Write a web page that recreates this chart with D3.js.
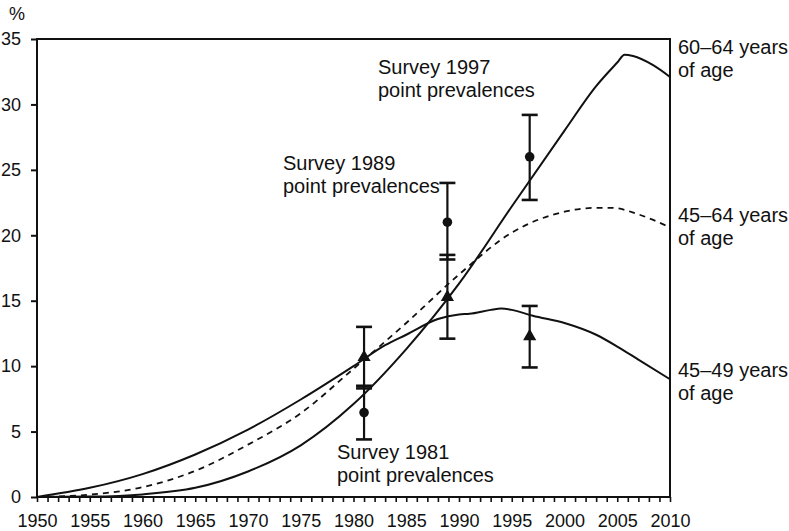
<!DOCTYPE html>
<html>
<head>
<meta charset="utf-8">
<script src="https://cdn.jsdelivr.net/npm/d3@7"></script>
<style>
  html, body { margin: 0; padding: 0; background: #fff; }
  svg { display: block; }
  text { font-family: "Liberation Sans", Arial, Helvetica, sans-serif; fill: #111; }
</style>
</head>
<body>
<svg id="chart" width="789" height="531"></svg>
<script>
// ---- data ----
const years6064 = [1950, 1955, 1960, 1965, 1970, 1975, 1980, 1985, 1990, 1995, 2000, 2003, 2005, 2005.7, 2006.5, 2008.4, 2010];
const values6064 = [0, 0.03, 0.2, 0.7, 1.95, 3.95, 7.1, 11.3, 16.3, 22.2, 28.0, 31.4, 33.2, 33.8, 33.7, 33.0, 32.1];

const years4564 = [1950, 1955, 1960, 1965, 1970, 1975, 1980, 1985, 1990, 1995, 2000, 2003, 2004.5, 2007, 2010];
const values4564 = [0, 0.18, 0.75, 2.0, 4.0, 6.4, 9.8, 13.3, 17.0, 20.2, 21.8, 22.1, 22.1, 21.6, 20.6];

const years4549 = [1950, 1955, 1960, 1965, 1970, 1975, 1980, 1983, 1985, 1988, 1990, 1991, 1993, 1994, 1995, 1997, 2000, 2003, 2005, 2007, 2010];
const values4549 = [0, 0.7, 1.75, 3.25, 5.15, 7.45, 10.0, 11.6, 12.4, 13.6, 13.95, 14.0, 14.3, 14.4, 14.3, 13.85, 13.3, 12.4, 11.5, 10.5, 9.0];

const surveyYears = [1981, 1988.9, 1996.7];
const circleValues = [6.45, 21.0, 26.0];   // 60–64 years
const circleLow = [4.4, 18.15, 22.7];
const circleHigh = [8.5, 24.0, 29.2];
const triangleValues = [10.6, 15.2, 12.2]; // 45–49 years
const triangleLow = [8.3, 12.1, 9.9];
const triangleHigh = [13.0, 18.5, 14.6];

const yTicks = [0, 5, 10, 15, 20, 25, 30, 35];
const xTickLabels = [1950, 1955, 1960, 1965, 1970, 1975, 1980, 1985, 1990, 1995, 2000, 2005, 2010];

// ---- layout ----
const svg = d3.select("#chart");
const pLeft = 37, pRight = 670, pTop = 39, pBottom = 497;
const x = d3.scaleLinear().domain([1950, 2010]).range([pLeft, pRight]);
const y = d3.scaleLinear().domain([0, 35]).range([pBottom, pTop]);

// box
svg.append("rect")
  .attr("x", pLeft).attr("y", pTop)
  .attr("width", pRight - pLeft).attr("height", pBottom - pTop)
  .attr("fill", "none").attr("stroke", "#111").attr("stroke-width", 2);

// y axis
const yAxis = d3.axisLeft(y).tickValues(yTicks).tickSize(6).tickPadding(10).tickFormat(d3.format("d"));
const gy = svg.append("g").attr("transform", `translate(${pLeft},0)`).call(yAxis);
gy.select(".domain").remove();
gy.selectAll(".tick line").attr("stroke", "#111").attr("stroke-width", 2);
gy.selectAll(".tick text").attr("font-size", 18).attr("font-family", "Liberation Sans, Arial, sans-serif").attr("fill", "#111");

// x axis: ticks every year, labels every 5
const xAxis = d3.axisBottom(x).tickValues(d3.range(1950, 2011, 1)).tickSize(5).tickPadding(12)
  .tickFormat(d => xTickLabels.includes(d) ? String(d) : "");
const gx = svg.append("g").attr("transform", `translate(0,${pBottom})`).call(xAxis);
gx.select(".domain").remove();
gx.selectAll(".tick line").attr("stroke", "#111").attr("stroke-width", 1.6);
gx.selectAll(".tick text").attr("font-size", 18).attr("font-family", "Liberation Sans, Arial, sans-serif").attr("fill", "#111");

// % label
svg.append("text").attr("x", 9).attr("y", 20).attr("font-size", 18).text("%");

// lines
const line = d3.line().x(d => x(d[0])).y(d => y(d[1])).curve(d3.curveMonotoneX);
function drawLine(xs, vs, dash) {
  svg.append("path")
    .datum(xs.map((d, i) => [d, vs[i]]))
    .attr("d", line)
    .attr("fill", "none")
    .attr("stroke", "#111")
    .attr("stroke-width", dash ? 1.8 : 2)
    .attr("stroke-dasharray", dash ? "6,5" : null);
}
drawLine(years6064, values6064, false);
drawLine(years4564, values4564, true);
drawLine(years4549, values4549, false);

// error bars
const capW = 8;
function errorBar(yr, lo, hi) {
  const g = svg.append("g").attr("stroke", "#111").attr("stroke-width", 2.2);
  g.append("line").attr("x1", x(yr)).attr("x2", x(yr)).attr("y1", y(lo)).attr("y2", y(hi));
  g.append("line").attr("x1", x(yr) - capW).attr("x2", x(yr) + capW).attr("y1", y(lo)).attr("y2", y(lo)).attr("stroke-width", 2.6);
  g.append("line").attr("x1", x(yr) - capW).attr("x2", x(yr) + capW).attr("y1", y(hi)).attr("y2", y(hi)).attr("stroke-width", 2.6);
}
surveyYears.forEach((yr, i) => {
  errorBar(yr, circleLow[i], circleHigh[i]);
  errorBar(yr, triangleLow[i], triangleHigh[i]);
});

// markers
svg.append("g").selectAll("circle").data(surveyYears).join("circle")
  .attr("cx", d => x(d)).attr("cy", (d, i) => y(circleValues[i])).attr("r", 4.8).attr("fill", "#111");
const tri = d3.symbol().type(d3.symbolTriangle).size(75);
svg.append("g").selectAll("path").data(surveyYears).join("path")
  .attr("d", tri)
  .attr("transform", (d, i) => `translate(${x(d)},${y(triangleValues[i]) - 1})`)
  .attr("fill", "#111");

// annotations
function label(xp, yp, lines) {
  const t = svg.append("text").attr("x", xp).attr("y", yp).attr("font-size", 20);
  lines.forEach((s, i) => t.append("tspan").attr("x", xp).attr("dy", i === 0 ? 0 : 23).text(s));
}
label(378, 74, ["Survey 1997", "point prevalences"]);
label(283, 170, ["Survey 1989", "point prevalences"]);
label(337, 459, ["Survey 1981", "point prevalences"]);
label(678, 54, ["60–64 years", "of age"]);
label(678, 222, ["45–64 years", "of age"]);
label(678, 377, ["45–49 years", "of age"]);
</script>
</body>
</html>
